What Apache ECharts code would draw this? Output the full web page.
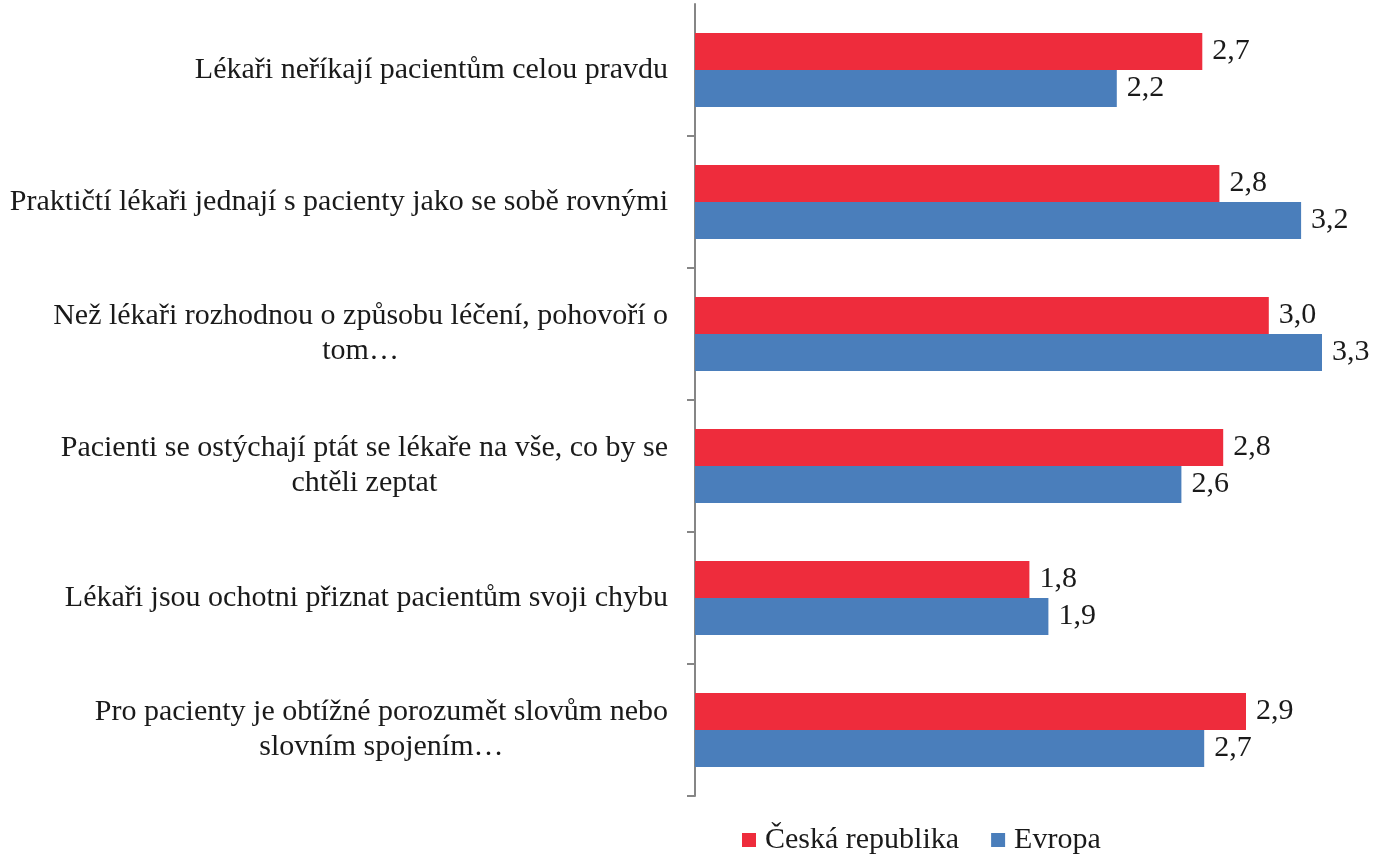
<!DOCTYPE html>
<html>
<head>
<meta charset="utf-8">
<script src="https://cdn.jsdelivr.net/npm/echarts@6/dist/echarts.min.js"></script>
<style>
  html, body { margin: 0; padding: 0; background: #fff; }
  #chart { width: 1373px; height: 857px; }
</style>
</head>
<body>
<div id="chart"></div>
<script>
// top to bottom, as in the picture
var categories = [
  'Lékaři neříkají pacientům celou pravdu',
  'Praktičtí lékaři jednají s pacienty jako se sobě rovnými',
  'Než lékaři rozhodnou o způsobu léčení, pohovoří o\ntom…',
  'Pacienti se ostýchají ptát se lékaře na vše, co by se\nchtěli zeptat',
  'Lékaři jsou ochotni přiznat pacientům svoji chybu',
  'Pro pacienty je obtížné porozumět slovům nebo\nslovním spojením…'
];
var seriesNames = ['Česká republika', 'Evropa'];
var czValues = [2.67, 2.76, 3.02, 2.78, 1.76, 2.90];
var euValues = [2.22, 3.19, 3.30, 2.56, 1.86, 2.68];

var font = 'Liberation Serif';
var chart = echarts.init(document.getElementById('chart'));

function label() {
  return {
    show: true,
    position: 'right',
    distance: 10,
    fontFamily: font,
    fontSize: 30,
    color: '#1a1a1a',
    formatter: function (p) { return p.value.toFixed(1).replace('.', ','); }
  };
}

chart.setOption({
  animation: false,
  grid: { left: 695, right: 13, top: 4, bottom: 61 },
  legend: {
    data: seriesNames,
    left: 737,
    top: 820,
    itemWidth: 14,
    itemHeight: 14,
    itemGap: 32,
    icon: 'rect',
    textStyle: { fontFamily: font, fontSize: 30, color: '#1a1a1a', padding: [0, 0, 0, 4] }
  },
  xAxis: {
    type: 'value',
    min: 0,
    max: 3.5,
    show: false
  },
  yAxis: {
    type: 'category',
    inverse: true,
    data: categories,
    axisLine: { show: true, lineStyle: { color: '#868686', width: 2 } },
    axisTick: {
      show: true,
      length: 8,
      interval: function (i) { return i !== 0; },
      lineStyle: { color: '#868686', width: 2 }
    },
    axisLabel: {
      margin: 27,
      fontFamily: font,
      fontSize: 30,
      lineHeight: 35,
      color: '#1a1a1a',
      align: 'right',
      // wrapped lines are centred inside the label block
      formatter: function (v) {
        return v.split('\n').map(function (s) { return '{c|' + s + '}'; }).join('\n');
      },
      rich: {
        c: { align: 'center', fontFamily: font, fontSize: 30, lineHeight: 35, color: '#1a1a1a' }
      }
    },
    splitLine: { show: false }
  },
  series: [
    {
      name: seriesNames[0],
      type: 'bar',
      data: czValues,
      barWidth: 37,
      barGap: '0%',
      itemStyle: { color: '#ee2c3c' },
      label: label()
    },
    {
      name: seriesNames[1],
      type: 'bar',
      data: euValues,
      barWidth: 37,
      barGap: '0%',
      itemStyle: { color: '#4a7ebb' },
      label: label()
    }
  ]
});
</script>
</body>
</html>
